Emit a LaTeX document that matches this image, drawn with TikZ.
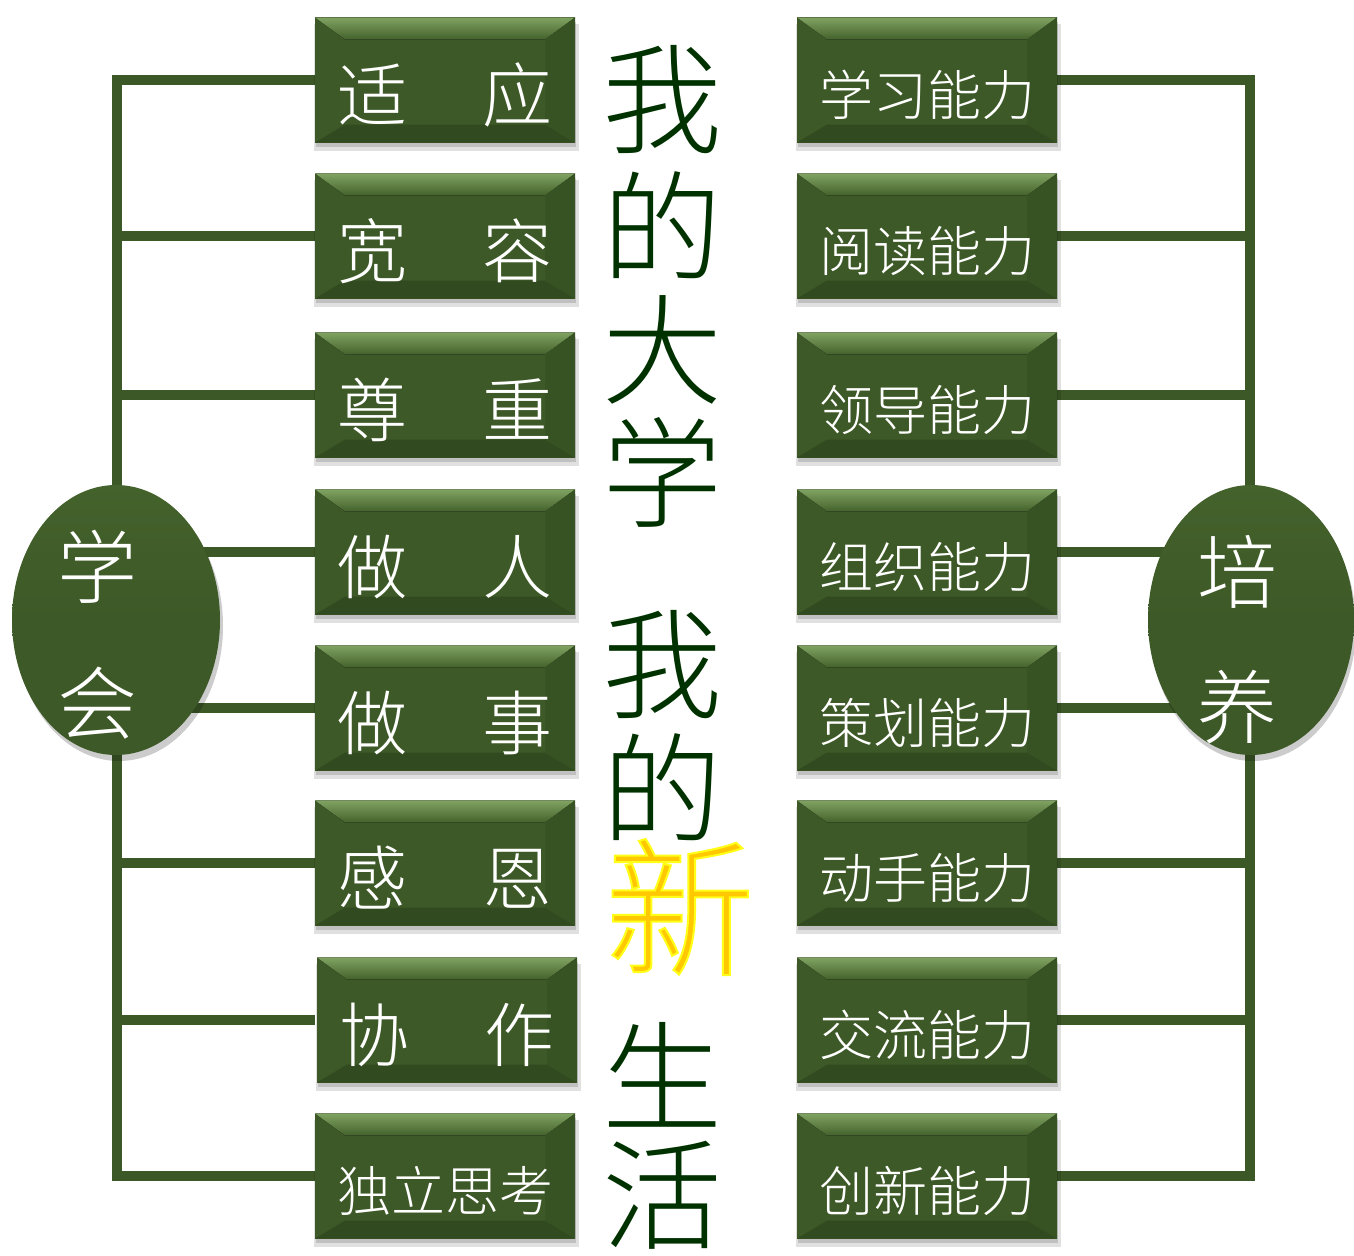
\documentclass[tikz,border=0pt]{standalone}
\usepackage{fontspec}
\IfFontExistsTF{Noto Sans CJK SC Light}{\setmainfont{Noto Sans CJK SC Light}}{\IfFontExistsTF{Noto Sans CJK SC DemiLight}{\setmainfont{Noto Sans CJK SC DemiLight}}{\setmainfont{Noto Sans CJK SC}}}
\usetikzlibrary{calc,shapes.geometric}
\definecolor{linec}{RGB}{59,88,38}
\definecolor{boxg}{RGB}{61,89,39}
\definecolor{bevtop}{RGB}{128,163,98}
\definecolor{bevmid}{RGB}{68,98,44}
\definecolor{bevbot}{RGB}{50,74,31}
\definecolor{bevside}{RGB}{55,82,35}
\definecolor{darkt}{RGB}{0,50,0}
\definecolor{newy}{RGB}{255,200,0}
\tikzset{
  conn/.style={draw=linec, line width=10pt, line join=miter},
  gbox/.style={rectangle, minimum width=260pt, minimum height=125pt, inner sep=0pt, fill=boxg},
  twotxt/.style={inner sep=0pt, text=white, font=\fontsize{70pt}{70pt}\selectfont},
  fourtxt/.style={inner sep=0pt, text=white, font=\fontsize{54pt}{54pt}\selectfont},
  ovaltxt/.style={inner sep=0pt, text=white, font=\fontsize{80pt}{80pt}\selectfont},
  bigtxt/.style={inner sep=0pt, text=darkt, font=\fontsize{120pt}{120pt}\selectfont},
  oval/.style={ellipse, minimum width=208pt, minimum height=270pt, inner sep=0pt,
    top color=bevmid, bottom color=boxg, middle color=boxg},
}
\newcommand\gbox[5]{% name, cx, cy, style, text
  \fill[black,opacity=0.12] (#2-131,#3-56) rectangle (#2+134,#3+71);
  \fill[black,opacity=0.14] (#2-129,#3-58) rectangle (#2+131,#3+67);
  \node[gbox] (#1) at (#2,#3) {};
  \fill[top color=bevtop,bottom color=bevmid] (#1.north west) -- (#1.north east) -- ($(#1.north east)+(-30,22)$) -- ($(#1.north west)+(30,22)$) -- cycle;
  \fill[bevbot] (#1.south west) -- (#1.south east) -- ($(#1.south east)+(-30,-18)$) -- ($(#1.south west)+(30,-18)$) -- cycle;
  \fill[bevside] (#1.north east) -- ($(#1.north east)+(-30,22)$) -- ($(#1.south east)+(-30,-18)$) -- (#1.south east) -- cycle;
  \node[#4] (#1t) at ($(#1.center)+(0,15)$) {#5};
}
\begin{document}
\begin{tikzpicture}[x=1pt,y=-1pt]
\useasboundingbox (0,0) rectangle (1354,1255);
\coordinate (LT) at (117,0);
\coordinate (RT) at (1250,0);
\foreach \n/\y in {1/80,2/236,3/395,4/552,5/708,6/863,7/1020,8/1176}{
  \coordinate (Lc\n) at (315,\y);
  \coordinate (Rc\n) at (1057,\y);
}
% connectors
\draw[conn] (Lc1) -- (Lc1 -| LT) -- (Lc8 -| LT) -- (Lc8);
\foreach \n in {2,...,7}{ \draw[conn] (Lc\n) -- (Lc\n -| LT); }
\draw[conn] (Rc1) -- (Rc1 -| RT) -- (Rc8 -| RT) -- (Rc8);
\foreach \n in {2,...,7}{ \draw[conn] (Rc\n) -- (Rc\n -| RT); }
% ovals
\fill[black,opacity=0.2] (119,626) ellipse [x radius=104, y radius=135];
\node[oval] (LO) at (116,620) {};
\node[ovaltxt] (LO1) at (97,567) {学};
\node[ovaltxt] (LO2) at (97,703) {会};
\fill[black,opacity=0.2] (1253,626) ellipse [x radius=103, y radius=135];
\node[oval, minimum width=206pt] (RO) at (1251,620) {};
\node[ovaltxt] (RO1) at (1237,572) {培};
\node[ovaltxt] (RO2) at (1237,707) {养};
% left boxes
\gbox{L1}{445}{80}{twotxt}{适\hspace{75pt}应}
\gbox{L2}{445}{236}{twotxt}{宽\hspace{75pt}容}
\gbox{L3}{445}{395}{twotxt}{尊\hspace{75pt}重}
\gbox{L4}{445}{552}{twotxt}{做\hspace{75pt}人}
\gbox{L5}{445}{708}{twotxt}{做\hspace{75pt}事}
\gbox{L6}{445}{863}{twotxt}{感\hspace{75pt}恩}
\gbox{L7}{447}{1020}{twotxt}{协\hspace{75pt}作}
\gbox{L8}{445}{1176}{fourtxt}{独立思考}
% right boxes
\gbox{R1}{927}{80}{fourtxt}{学习能力}
\gbox{R2}{927}{236}{fourtxt}{阅读能力}
\gbox{R3}{927}{395}{fourtxt}{领导能力}
\gbox{R4}{927}{552}{fourtxt}{组织能力}
\gbox{R5}{927}{708}{fourtxt}{策划能力}
\gbox{R6}{927}{863}{fourtxt}{动手能力}
\gbox{R7}{927}{1020}{fourtxt}{交流能力}
\gbox{R8}{927}{1176}{fourtxt}{创新能力}
% title column
\node[bigtxt] (T1) at (662,100) {我};
\node[bigtxt] (T2) at (662,225) {的};
\node[bigtxt] (T3) at (662,350) {大};
\node[bigtxt] (T4) at (662,472) {学};
\node[bigtxt] (T5) at (662,665) {我};
\node[bigtxt] (T6) at (662,787) {的};
\node[inner sep=0pt, text=newy, font=\fontsize{150pt}{150pt}\selectfont] (T7) at (680,907)
  {\special{pdf:literal direct 2 Tr 2 w 1 1 0.1 RG}新\special{pdf:literal direct 0 Tr}};
\node[bigtxt] (T8) at (662,1075) {生};
\node[bigtxt] (T9) at (662,1195) {活};
\end{tikzpicture}
\end{document}
